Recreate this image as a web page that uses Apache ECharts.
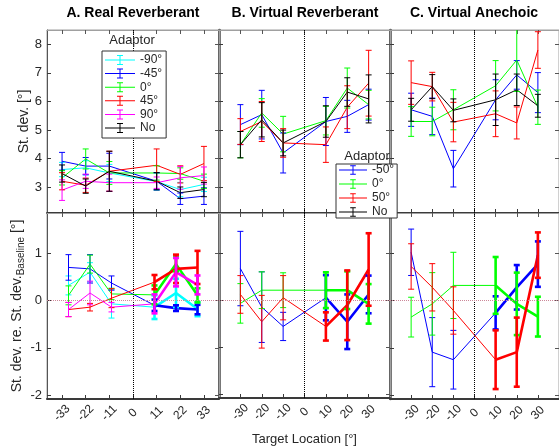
<!DOCTYPE html>
<html>
<head>
    <meta charset="utf-8">
    <title>St. dev. by target location</title>
    <script src="https://cdn.jsdelivr.net/npm/echarts@6.0.0/dist/echarts.min.js"></script>
</head>
<body style="margin:0">
<div id="chart" style="width:559px;height:447px;"></div>
<script type="text/javascript">
    // target locations
    var xRealTop = [-33, -22, -11, 11, 22, 33];
    var xLoc = [-30, -20, -10, 10, 20, 30];
    var ticksReal = [-33, -22, -11, 0, 11, 22, 33];
    var ticksVirtual = [-30, -20, -10, 0, 10, 20, 30];
    var ticksTop = [3, 4, 5, 6, 7, 8];
    var ticksBottom = [-2, -1, 0, 1];

    // A. Real Reverberant - St. dev.
    var realM90 = [3.62, 3.68, 3.50, 3.20, 2.92, 3.10];
    var realM90Err = [0.25, 0.25, 0.3, 0.3, 0.25, 0.25];
    var realM45 = [3.91, 3.74, 3.74, 3.21, 2.60, 2.69];
    var realM45Err = [0.31, 0.3, 0.45, 0.3, 0.2, 0.29];
    var real0 = [3.33, 3.99, 3.50, 3.50, 3.48, 3.21];
    var real0Err = [0.25, 0.35, 0.4, 0.25, 0.2, 0.25];
    var realP45 = [3.21, 3.07, 3.56, 3.77, 3.45, 3.83];
    var realP45Err = [0.3, 0.25, 0.7, 0.57, 0.3, 0.6];
    var realP90 = [2.90, 3.21, 3.16, 3.16, 3.33, 3.41];
    var realP90Err = [0.36, 0.25, 0.3, 0.2, 0.4, 0.3];
    var realNo = [3.48, 3.04, 3.56, 3.21, 2.81, 2.92];
    var realNoErr = [0.3, 0.25, 0.7, 0.3, 0.2, 0.25];

    // B. Virtual Reverberant - St. dev.
    var vrevM50 = [5.19, 5.54, 4.20, 5.30, 5.48, 5.89];
    var vrevM50Err = [0.7, 0.85, 0.7, 0.84, 0.56, 0.54];
    var vrev0 = [4.49, 5.60, 4.86, 5.33, 6.47, 5.89];
    var vrev0Err = [0.46, 0.5, 0.62, 0.5, 0.7, 0.5];
    var vrevP50 = [4.95, 5.30, 4.55, 4.49, 5.80, 6.64];
    var vrevP50Err = [0.45, 0.7, 0.5, 0.62, 0.75, 1.15];
    var vrevNo = [4.49, 5.36, 4.55, 5.30, 6.33, 6.09];
    var vrevNoErr = [0.46, 0.6, 0.45, 0.55, 0.5, 0.84];

    // C. Virtual Anechoic - St. dev.
    var vaneM50 = [5.71, 5.48, 3.65, 6.06, 6.93, 6.31];
    var vaneM50Err = [0.58, 0.64, 0.64, 0.7, 0.5, 0.7];
    var vane0 = [5.30, 5.30, 5.71, 6.55, 7.45, 5.80];
    var vane0Err = [0.52, 0.5, 0.7, 0.88, 1.1, 0.6];
    var vaneP50 = [6.66, 6.52, 5.28, 5.57, 5.25, 7.80];
    var vaneP50Err = [0.76, 0.5, 0.69, 0.8, 0.56, 0.64];
    var vaneNo = [5.71, 6.52, 5.69, 6.06, 6.41, 5.85];
    var vaneNoErr = [0.4, 0.42, 0.4, 0.9, 0.55, 0.4];

    // A. re. baseline
    var realReM90 = [0.32, 0.60, -0.07, -0.14, 0.16, -0.18];
    var realReM90Err = [0.2, 0.2, 0.3, 0.25, 0.3, 0.15];
    var realReM45 = [0.70, 0.67, 0.37, -0.10, -0.16, -0.19];
    var realReM45Err = [0.27, 0.3, 0.15, 0.12, 0.06, 0.1];
    var realRe0 = [0.11, 0.77, 0.14, 0.12, 0.77, 0.11];
    var realRe0Err = [0.2, 0.19, 0.12, 0.2, 0.15, 0.15];
    var realReP45 = [-0.19, -0.14, 0.05, 0.39, 0.67, 0.70];
    var realReP45Err = [0.15, 0.08, 0.2, 0.15, 0.3, 0.35];
    var realReP90 = [-0.19, 0.16, -0.14, -0.07, 0.60, 0.33];
    var realReP90Err = [0.15, 0.25, 0.1, 0.2, 0.3, 0.2];

    // B. re. baseline
    var vrevReM50 = [0.67, -0.15, -0.56, 0.05, -0.46, 0.12];
    var vrevReM50Err = [0.79, 0.75, 0.3, 0.48, 0.58, 0.4];
    var vrevRe0 = [-0.07, 0.21, 0.21, 0.21, 0.21, -0.08];
    var vrevRe0Err = [0.42, 0.39, 0.37, 0.38, 0.4, 0.42];
    var vrevReP50 = [0.12, -0.46, 0.05, -0.56, -0.11, 0.65];
    var vrevReP50Err = [0.4, 0.56, 0.47, 0.3, 0.74, 0.77];

    // C. re. baseline
    var vaneReM50 = [1.02, -1.09, -1.25, -0.26, 0.28, 0.77];
    var vaneReM50Err = [0.49, 0.73, 0.62, 0.35, 0.47, 0.48];
    var vaneRe0 = [-0.35, -0.07, 0.32, 0.32, -0.07, -0.34];
    var vaneRe0Err = [0.42, 0.66, 0.7, 0.6, 0.66, 0.42];
    var vaneReP50 = [0.72, 0.28, -0.21, -1.25, -1.09, 0.96];
    var vaneReP50Err = [0.48, 0.5, 0.5, 0.62, 0.73, 0.48];

    var FONT = "'Liberation Sans', Arial, Helvetica, sans-serif";
    var TXT = '#262626';
    var cyan = '#00ffff', blue = '#0000ff', green = '#00ff00', red = '#ff0000', magenta = '#ff00ff', black = '#000000';

    var panels = [
        {grid: 0, x: xRealTop, split: false, lines: [
            ['-90°', cyan, realM90, realM90Err], ['-45°', blue, realM45, realM45Err],
            ['0°', green, real0, real0Err], ['45°', red, realP45, realP45Err],
            ['90°', magenta, realP90, realP90Err], ['No', black, realNo, realNoErr]]},
        {grid: 1, x: xLoc, split: false, lines: [
            ['-50°', blue, vrevM50, vrevM50Err], ['0°', green, vrev0, vrev0Err],
            ['50°', red, vrevP50, vrevP50Err], ['No', black, vrevNo, vrevNoErr]]},
        {grid: 2, x: xLoc, split: false, lines: [
            ['-50°', blue, vaneM50, vaneM50Err], ['0°', green, vane0, vane0Err],
            ['50°', red, vaneP50, vaneP50Err], ['No', black, vaneNo, vaneNoErr]]},
        {grid: 3, x: xLoc, split: true, lines: [
            ['-90°', cyan, realReM90, realReM90Err], ['-45°', blue, realReM45, realReM45Err],
            ['0°', green, realRe0, realRe0Err], ['45°', red, realReP45, realReP45Err],
            ['90°', magenta, realReP90, realReP90Err]]},
        {grid: 4, x: xLoc, split: true, lines: [
            ['-50°', blue, vrevReM50, vrevReM50Err], ['0°', green, vrevRe0, vrevRe0Err],
            ['50°', red, vrevReP50, vrevReP50Err]]},
        {grid: 5, x: xLoc, split: true, lines: [
            ['-50°', blue, vaneReM50, vaneReM50Err], ['0°', green, vaneRe0, vaneRe0Err],
            ['50°', red, vaneReP50, vaneReP50Err]]}
    ];

    var grids = [
        {left: 47, top: 30, width: 172, height: 183},
        {left: 219, top: 30, width: 171, height: 183},
        {left: 390, top: 30, width: 172, height: 183},
        {left: 47, top: 213, width: 172, height: 186},
        {left: 219, top: 213, width: 171, height: 186},
        {left: 390, top: 213, width: 172, height: 186}
    ];
    grids.forEach(function (g) { g.show = true; g.borderColor = '#a0a0a0'; g.borderWidth = 1; });

    // error bar drawn with the axes' own coordinates
    function barRenderer(color, width) {
        return function (params, api) {
            var hi = api.coord([api.value(0), api.value(2)]);
            var lo = api.coord([api.value(0), api.value(1)]);
            var w = 3;
            var st = {stroke: color, lineWidth: width, fill: null};
            return {type: 'group', children: [
                {type: 'line', shape: {x1: hi[0], y1: hi[1], x2: lo[0], y2: lo[1]}, style: st},
                {type: 'line', shape: {x1: hi[0] - w, y1: hi[1], x2: hi[0] + w, y2: hi[1]}, style: st},
                {type: 'line', shape: {x1: lo[0] - w, y1: lo[1], x2: lo[0] + w, y2: lo[1]}, style: st}
            ]};
        };
    }

    var series = [];
    function addLine(g, name, color, xs, m, from, to, width) {
        var pts = [];
        for (var i = from; i <= to; i++) pts.push([xs[i], m[i]]);
        series.push({
            type: 'line', name: name, xAxisIndex: g, yAxisIndex: g, data: pts,
            symbol: 'none', color: color, lineStyle: {color: color, width: width},
            itemStyle: {color: color}, z: 2, animation: false
        });
    }
    function addBars(g, name, color, xs, m, e, from, to, width) {
        var d = [];
        for (var i = from; i <= to; i++) d.push([xs[i], m[i] - e[i], m[i] + e[i]]);
        series.push({
            type: 'custom', name: name + ' err', xAxisIndex: g, yAxisIndex: g, data: d,
            clip: true, silent: true, renderItem: barRenderer(color, width),
            encode: {x: 0, y: [1, 2]}, z: 3, animation: false
        });
    }

    panels.forEach(function (p) {
        p.lines.forEach(function (l) {
            if (!p.split) {
                addLine(p.grid, l[0], l[1], p.x, l[2], 0, 5, 1);
                addBars(p.grid, l[0], l[1], p.x, l[2], l[3], 0, 5, 1);
            } else {
                addLine(p.grid, l[0], l[1], p.x, l[2], 0, 3, 1);
                addLine(p.grid, l[0], l[1], p.x, l[2], 3, 5, 2.6);
                addBars(p.grid, l[0], l[1], p.x, l[2], l[3], 0, 2, 1);
                addBars(p.grid, l[0], l[1], p.x, l[2], l[3], 3, 5, 2.6);
            }
        });
    });

    // dotted reference lines at x = 0 (and y = 0 for the baseline row)
    for (var g = 0; g < 6; g++) {
        for (var s = 0; s < series.length; s++) {
            if (series[s].xAxisIndex === g && series[s].type === 'line') {
                var ml = [{xAxis: 0, lineStyle: {type: 'dotted', color: '#000', width: 1}}];
                if (g >= 3) ml.push({yAxis: 0, lineStyle: {type: 'dotted', color: '#cc8899', width: 1}});
                series[s].markLine = {silent: true, symbol: 'none', label: {show: false}, animation: false, data: ml};
                break;
            }
        }
    }

    var xAxes = [], yAxes = [];
    for (var i = 0; i < 6; i++) {
        var xt = (i % 3 === 0) ? ticksReal : ticksVirtual;
        xAxes.push({
            type: 'value', gridIndex: i, min: -40, max: 40, position: 'bottom',
            axisLine: {show: true, onZero: false, lineStyle: {color: '#3a3a3a', width: 2}},
            axisTick: {show: true, inside: true, length: 4, customValues: xt, lineStyle: {color: '#3a3a3a'}},
            axisLabel: {show: i >= 3, customValues: xt, rotate: 45, align: 'center', verticalAlign: 'middle',
                margin: 14, fontSize: 12, color: TXT, fontFamily: FONT},
            splitLine: {show: false}
        });
    }
    for (var i = 0; i < 6; i++) {
        var xt2 = (i % 3 === 0) ? ticksReal : ticksVirtual;
        xAxes.push({
            type: 'value', gridIndex: i, min: -40, max: 40, position: 'top',
            axisLine: {show: true, onZero: false, lineStyle: {color: '#a0a0a0', width: 1}},
            axisTick: {show: true, inside: true, length: 4, customValues: xt2, lineStyle: {color: '#555'}},
            axisLabel: {show: false}, splitLine: {show: false}
        });
    }
    for (var i = 0; i < 6; i++) {
        var upper = i < 3;
        var yt = upper ? ticksTop : ticksBottom;
        var first = (i % 3 === 0);
        yAxes.push({
            type: 'value', gridIndex: i, position: 'left',
            min: upper ? 2.1 : -2.08, max: upper ? 8.5 : 1.85,
            axisLine: {show: true, onZero: false, lineStyle: {color: first ? '#555' : '#4a4a4a', width: first ? 1 : 2.5}},
            axisTick: {show: true, inside: true, length: 4, customValues: yt, lineStyle: {color: '#3a3a3a'}},
            axisLabel: {show: first, customValues: yt, margin: 5, fontSize: 13, color: TXT, fontFamily: FONT},
            splitLine: {show: false}
        });
    }
    for (var i = 0; i < 6; i++) {
        var upper2 = i < 3;
        yAxes.push({
            type: 'value', gridIndex: i, position: 'right',
            min: upper2 ? 2.1 : -2.08, max: upper2 ? 8.5 : 1.85,
            axisLine: {show: true, onZero: false, lineStyle: {color: '#a0a0a0', width: 1}},
            axisTick: {show: true, inside: true, length: 4, customValues: upper2 ? ticksTop : ticksBottom, lineStyle: {color: '#555'}},
            axisLabel: {show: false}, splitLine: {show: false}
        });
    }

    // axis names
    yAxes[0].name = 'St. dev. [°]';
    yAxes[0].nameLocation = 'middle';
    yAxes[0].nameRotate = 90;
    yAxes[0].nameGap = 15;
    yAxes[0].nameTextStyle = {fontSize: 14, color: TXT, fontFamily: FONT};

    yAxes[3].name = '{a|St. dev. re. St. dev.}{b|Baseline}{a| [°]}';
    yAxes[3].nameLocation = 'middle';
    yAxes[3].nameRotate = 90;
    yAxes[3].nameGap = 17;
    yAxes[3].nameTextStyle = {color: TXT, fontFamily: FONT, rich: {
        a: {fontSize: 14, lineHeight: 18, color: TXT, fontFamily: FONT},
        b: {fontSize: 10, lineHeight: 8, verticalAlign: 'bottom', color: TXT, fontFamily: FONT}
    }};

    xAxes[4].name = 'Target Location [°]';
    xAxes[4].nameLocation = 'middle';
    xAxes[4].nameGap = 35;
    xAxes[4].nameTextStyle = {fontSize: 13, color: TXT, fontFamily: FONT};

    var errIcon = 'path://M0,4.5L30,4.5L30,5.5L0,5.5Z M14.5,0L15.5,0L15.5,10L14.5,10Z M12,0L18,0L18,1L12,1Z M12,9L18,9L18,10L12,10Z';

    var myChart = echarts.init(document.getElementById('chart'));
    myChart.setOption({
        animation: false,
        backgroundColor: '#fff',
        grid: grids,
        xAxis: xAxes,
        yAxis: yAxes,
        legend: [
            {
                data: ['-90°', '-45°', '0°', '45°', '90°', 'No'], orient: 'vertical',
                left: 102, top: 51, itemWidth: 30, itemHeight: 13, itemGap: 1.6,
                padding: [3, 4, 4, 3], borderColor: '#333', borderWidth: 1, backgroundColor: '#fff',
                icon: errIcon, selectedMode: false, z: 10,
                textStyle: {fontSize: 12, color: TXT, fontFamily: FONT}
            },
            {
                data: ['-50°', '0°', '50°', 'No'], orient: 'vertical',
                left: 336, top: 164, itemWidth: 28, itemHeight: 14, itemGap: 2,
                padding: [0, 3, 0, 3], borderColor: '#333', borderWidth: 1, backgroundColor: '#fff',
                icon: errIcon, selectedMode: false, z: 10,
                textStyle: {fontSize: 12, color: TXT, fontFamily: FONT}
            }
        ],
        graphic: [
            {type: 'text', x: 133, y: 13, z: 100, style: {text: 'A. Real Reverberant', fontSize: 14, fontWeight: 'bold', fontFamily: FONT, fill: '#000', align: 'center', verticalAlign: 'middle'}},
            {type: 'text', x: 305, y: 13, z: 100, style: {text: 'B. Virtual Reverberant', fontSize: 14, fontWeight: 'bold', fontFamily: FONT, fill: '#000', align: 'center', verticalAlign: 'middle'}},
            {type: 'text', x: 474, y: 13, z: 100, style: {text: 'C. Virtual Anechoic', fontSize: 14, fontWeight: 'bold', fontFamily: FONT, fill: '#000', align: 'center', verticalAlign: 'middle'}},
            {type: 'text', x: 132, y: 40, z: 100, style: {text: 'Adaptor', fontSize: 13, fontFamily: FONT, fill: TXT, align: 'center', verticalAlign: 'middle'}},
            {type: 'text', x: 367, y: 156, z: 100, style: {text: 'Adaptor', fontSize: 13, fontFamily: FONT, fill: TXT, align: 'center', verticalAlign: 'middle'}}
        ],
        series: series
    });
</script>
</body>
</html>
